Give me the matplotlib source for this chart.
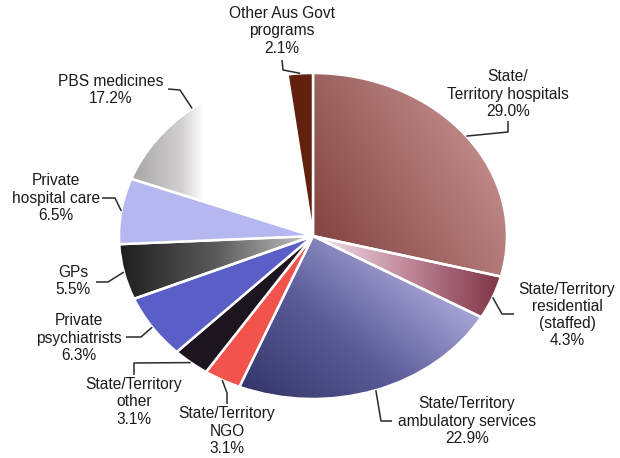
import numpy as np
import matplotlib
matplotlib.use("Agg")
import matplotlib.pyplot as plt
from matplotlib.colors import LinearSegmentedColormap

plt.rcParams['font.family'] = ['Liberation Sans', 'DejaVu Sans']

# spending shares, clockwise from 12 o'clock
labels = ['State/\nTerritory hospitals\n29.0%',
          'State/Territory\nresidential\n(staffed)\n4.3%',
          'State/Territory\nambulatory services\n22.9%',
          'State/Territory\nNGO\n3.1%',
          'State/Territory\nother\n3.1%',
          'Private\npsychiatrists\n6.3%',
          'GPs\n5.5%',
          'Private\nhospital care\n6.5%',
          'PBS medicines\n17.2%',
          'Other Aus Govt\nprograms\n2.1%']
shares = [29.0, 4.3, 22.9, 3.1, 3.1, 6.3, 5.5, 6.5, 17.2, 2.1]
colors = ['#a56c6a', '#b87a8a', '#6a6aa0', '#f2534c', '#1c1520',
          '#5a5ec6', '#555555', '#b4b7f0', '#dddddd', '#62200f']

# gradient fills: (colour stops, direction in degrees)
shading = {
    0: (['#844442', '#a06664', '#bd8886'], 30),
    1: (['#f6e6f2', '#c08898', '#7e3446'], 0),
    2: (['#34366a', '#5a5c98', '#a8a6d8'], 50),
    6: (['#1e1e1e', '#5a5a5a', '#c8c8c8'], 0),
    8: ([(0, '#a8a3a4'), (0.28, '#d4d0d2'), (0.4, '#ffffff'), (1, '#ffffff')], 0),
}

# label centres and leader elbows/ends in pixel space
label_pos = [(508, 94), (567, 315), (467, 421), (227, 431), (134, 402),
             (79, 338), (73, 281), (56, 198), (111, 90), (282, 31)]
leaders = [[(508, 132), (508, 121)],
           [(502, 314), (514, 314)],
           [(381, 421), (392, 421)],
           [(227, 393), (227, 404)],
           [(134, 363), (134, 375)],
           [(141, 337), (126, 337)],
           [(108, 282), (96, 282)],
           [(115, 198), (102, 198)],
           [(180, 90), (168, 89)],
           [(283, 70), (282, 60)]]

CX, CY, RX, RY = 313, 236, 194, 163


def px(x, y):
    return (x - CX) / RX, (CY - y) / RY


def shade(ax, wedge, stops, angle):
    verts = wedge.get_path().vertices
    x0, y0 = verts.min(0)
    x1, y1 = verts.max(0)
    X, Y = np.meshgrid(np.linspace(x0, x1, 300), np.linspace(y0, y1, 300))
    d = np.array([np.cos(np.radians(angle)), np.sin(np.radians(angle)) * RY / RX])
    t = X * d[0] + Y * d[1]
    p = verts @ d
    t = (t - p.min()) / (p.max() - p.min())
    cmap = LinearSegmentedColormap.from_list('g', stops)
    im = ax.imshow(t, cmap=cmap, extent=(x0, x1, y0, y1), origin='lower',
                   aspect='auto', interpolation='bilinear', zorder=1, vmin=0, vmax=1)
    im.set_clip_path(wedge)
    wedge.set_facecolor('none')


fig = plt.figure(figsize=(6.2, 4.58), dpi=100)
ax = fig.add_axes([0, 0, 1, 1])
wedges, _ = ax.pie(shares, colors=colors, startangle=90, counterclock=False,
                   wedgeprops=dict(edgecolor='white', linewidth=1.8, zorder=2))

for i, (stops, ang) in shading.items():
    shade(ax, wedges[i], stops, ang)

for w, lab, (tx, ty), pts in zip(wedges, labels, label_pos, leaders):
    mid = np.radians((w.theta1 + w.theta2) / 2)
    xs = [np.cos(mid)] + [px(*p)[0] for p in pts]
    ys = [np.sin(mid)] + [px(*p)[1] for p in pts]
    ax.plot(xs, ys, color='#2a2a2a', lw=1.1, zorder=3, solid_capstyle='butt')
    ax.text(*px(tx, ty), lab, ha='center', va='center', fontsize=11.2,
            color='#1a1a20', linespacing=1.18, zorder=4)

ax.set_aspect('auto')
ax.set_xlim(-CX / RX, (620 - CX) / RX)
ax.set_ylim(-(458 - CY) / RY, CY / RY)
ax.axis('off')

fig.savefig('out.png', dpi=100, facecolor='white')
